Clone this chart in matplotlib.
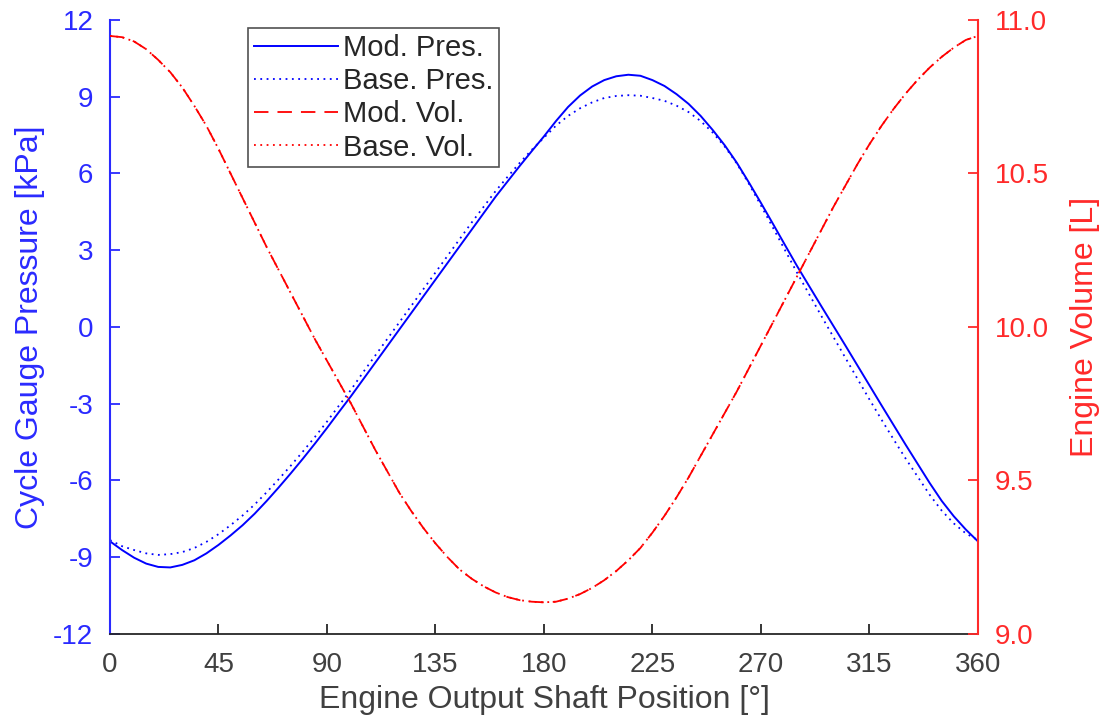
import matplotlib
matplotlib.use("Agg")
import matplotlib.pyplot as plt

plt.rcParams['font.family'] = ['Liberation Sans', 'DejaVu Sans']
plt.rcParams['axes.unicode_minus'] = False

angle = list(range(0, 361, 5))

mod_pres = [-8.38, -8.72, -9.02, -9.25, -9.38, -9.40, -9.30, -9.12, -8.85, -8.52,
            -8.15, -7.75, -7.30, -6.80, -6.27, -5.72, -5.15, -4.56, -3.95, -3.32,
            -2.70, -2.05, -1.40, -0.75, -0.10, 0.55, 1.20, 1.85, 2.50, 3.15,
            3.80, 4.45, 5.10, 5.70, 6.30, 6.88, 7.45, 8.05, 8.60, 9.05,
            9.40, 9.65, 9.80, 9.86, 9.82, 9.65, 9.42, 9.10, 8.72, 8.25,
            7.70, 7.10, 6.42, 5.65, 4.85, 4.03, 3.20, 2.38, 1.60, 0.82,
            0.05, -0.72, -1.50, -2.28, -3.06, -3.83, -4.60, -5.35, -6.10, -6.80,
            -7.40, -7.92, -8.38]

base_pres = [-8.33, -8.57, -8.72, -8.85, -8.91, -8.88, -8.80, -8.64, -8.40, -8.10,
             -7.75, -7.37, -6.94, -6.46, -5.95, -5.42, -4.87, -4.30, -3.70, -3.07,
             -2.45, -1.77, -1.12, -0.47, 0.18, 0.83, 1.48, 2.13, 2.78, 3.43,
             4.08, 4.70, 5.32, 5.88, 6.42, 6.93, 7.40, 7.87, 8.25, 8.55,
             8.78, 8.95, 9.03, 9.06, 9.04, 8.95, 8.84, 8.65, 8.40, 8.05,
             7.60, 7.05, 6.39, 5.60, 4.75, 3.88, 3.00, 2.12, 1.28, 0.44,
             -0.38, -1.20, -2.02, -2.83, -3.62, -4.39, -5.14, -5.85, -6.56, -7.18,
             -7.68, -8.07, -8.33]

mod_vol = [10.948, 10.944, 10.930, 10.905, 10.870, 10.830, 10.780, 10.720, 10.655, 10.580,
           10.500, 10.420, 10.340, 10.260, 10.185, 10.110, 10.035, 9.960, 9.890, 9.820,
           9.750, 9.675, 9.600, 9.530, 9.460, 9.400, 9.345, 9.295, 9.250, 9.210,
           9.180, 9.155, 9.135, 9.120, 9.110, 9.105, 9.103, 9.105, 9.115, 9.130,
           9.150, 9.175, 9.205, 9.240, 9.280, 9.330, 9.385, 9.445, 9.510, 9.580,
           9.650, 9.720, 9.790, 9.865, 9.940, 10.015, 10.090, 10.165, 10.240, 10.315,
           10.390, 10.460, 10.530, 10.595, 10.655, 10.710, 10.760, 10.805, 10.845, 10.880,
           10.910, 10.935, 10.948]

base_vol = [10.948, 10.944, 10.930, 10.905, 10.870, 10.830, 10.780, 10.720, 10.655, 10.580,
            10.500, 10.420, 10.340, 10.260, 10.185, 10.110, 10.035, 9.960, 9.890, 9.820,
            9.750, 9.675, 9.600, 9.530, 9.460, 9.400, 9.345, 9.295, 9.250, 9.210,
            9.180, 9.155, 9.135, 9.120, 9.110, 9.105, 9.103, 9.105, 9.115, 9.130,
            9.150, 9.175, 9.205, 9.240, 9.280, 9.330, 9.385, 9.445, 9.510, 9.580,
            9.650, 9.720, 9.790, 9.865, 9.940, 10.015, 10.090, 10.165, 10.240, 10.315,
            10.390, 10.460, 10.530, 10.595, 10.655, 10.710, 10.760, 10.805, 10.845, 10.880,
            10.910, 10.935, 10.948]

x_ticks = [0, 45, 90, 135, 180, 225, 270, 315, 360]
p_ticks = [-12, -9, -6, -3, 0, 3, 6, 9, 12]
v_ticks = [9.0, 9.5, 10.0, 10.5, 11.0]

BLUE = '#2a2aff'
RED = '#ff2a2a'
GRAY = '#262626'

fig = plt.figure(figsize=(11, 7.27), dpi=100)
ax = fig.add_axes([0.1, 0.128, 0.789, 0.8445])
ax2 = ax.twinx()

l1, = ax.plot(angle, mod_pres, color='blue', lw=1.4, label='Mod. Pres.')
l2, = ax.plot(angle, base_pres, color='blue', lw=1.3, ls=(0, (1, 2.5)), label='Base. Pres.')
l3, = ax2.plot(angle, mod_vol, color='red', lw=1.3, ls=(0, (8, 5)), label='Mod. Vol.')
l4, = ax2.plot(angle, base_vol, color='red', lw=1.3, ls=(0, (1, 2.5)), label='Base. Vol.')

ax.set_xlim(0, 360)
ax.set_ylim(-12, 12)
ax2.set_ylim(9.0, 11.0)
ax.set_xticks(x_ticks)
ax.set_yticks(p_ticks)
ax2.set_yticks(v_ticks)
ax2.set_yticklabels([f'{v:.1f}' for v in v_ticks])

for a in (ax, ax2):
    a.spines['top'].set_visible(False)
ax.spines['right'].set_visible(False)
ax.spines['left'].set_color(BLUE)
ax.spines['left'].set_linewidth(1.5)
ax.spines['bottom'].set_color(GRAY)
ax.spines['bottom'].set_linewidth(1.3)
ax2.spines['left'].set_visible(False)
ax2.spines['bottom'].set_visible(False)
ax2.spines['right'].set_color(RED)
ax2.spines['right'].set_linewidth(1.5)

ax.tick_params(axis='x', direction='in', length=7, width=1.3, colors=GRAY,
               labelsize=20, pad=13)
ax.tick_params(axis='y', direction='in', length=7, width=1.3, colors=BLUE,
               labelsize=20, pad=12)
ax2.tick_params(axis='y', direction='in', length=7, width=1.3, colors=RED,
                labelsize=20, pad=12)
for t in ax.get_xticklabels():
    t.set_color('#404040')

ax.set_xlabel('Engine Output Shaft Position [°]', fontsize=23, color='#404040', labelpad=5)
ax.set_ylabel('Cycle Gauge Pressure [kPa]', fontsize=23, color=BLUE, labelpad=6)
ax2.set_ylabel('Engine Volume [L]', fontsize=23, color=RED, labelpad=15)

leg = ax2.legend(handles=[l1, l2, l3, l4], loc='upper left',
                 bbox_to_anchor=(0.159, 0.987), fontsize=21, frameon=True,
                 fancybox=False, edgecolor='#262626', handlelength=2.9,
                 handletextpad=0.15, borderpad=0.2, labelspacing=0.18,
                 borderaxespad=0)
leg.get_frame().set_linewidth(1.2)
for t in leg.get_texts():
    t.set_color('#262626')

fig.savefig('out.png', dpi=100, facecolor='white')
